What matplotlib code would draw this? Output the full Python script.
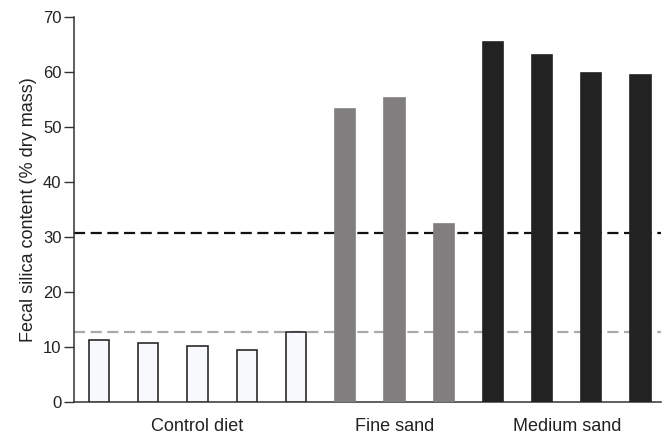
import matplotlib
matplotlib.use("Agg")
import matplotlib.pyplot as plt
import numpy as np

# fecal silica content per animal (% dry mass)
control = [11.4, 10.8, 10.2, 9.6, 12.7]
fine_sand = [53.3, 55.3, 32.4]
medium_sand = [65.5, 63.1, 59.9, 59.5]
group_labels = ["Control diet", "Fine sand", "Medium sand"]
ref_high = 30.8   # black dashed line
ref_low = 12.85   # grey dashed line

plt.rcParams['font.family'] = ['Liberation Sans', 'DejaVu Sans']

fig = plt.figure(figsize=(6.62, 4.34), dpi=100)
ax = fig.add_axes([0.1118, 0.073, 0.887, 0.887])

groups = [control, fine_sand, medium_sand]
faces = ["#f8f9fd", "#807e7f", "#222222"]
edges = ["#2a2a2a", "#807e7f", "#222222"]

start = 0
centers = []
for vals, fc, ec in zip(groups, faces, edges):
    x = np.arange(start, start + len(vals))
    ax.bar(x, vals, width=0.41, color=fc, edgecolor=ec, linewidth=1.2, zorder=3)
    centers.append(x.mean())
    start += len(vals)

ax.axhline(ref_high, color="#111111", linestyle=(0, (5, 2.5)), linewidth=1.6, zorder=2)
ax.axhline(ref_low, color="#aaaaaa", linestyle=(0, (5, 2.5)), linewidth=1.6, zorder=2)

ax.set_xlim(-0.51, 11.42)
ax.set_ylim(0, 70)
ax.set_yticks(np.arange(0, 71, 10))
ax.set_xticks(centers)
ax.set_xticklabels(group_labels, fontsize=13, color="#222222")
ax.tick_params(axis='x', length=0, pad=11)
ax.tick_params(axis='y', length=7, width=1, labelsize=12, color="#333333",
               labelcolor="#222222", pad=2)
ax.set_ylabel("Fecal silica content (% dry mass)", fontsize=13, labelpad=4,
              color="#222222")

for s in ["top", "right"]:
    ax.spines[s].set_visible(False)
for s in ["left", "bottom"]:
    ax.spines[s].set_color("#333333")
    ax.spines[s].set_linewidth(1.1)

plt.savefig("out.png", dpi=100)
